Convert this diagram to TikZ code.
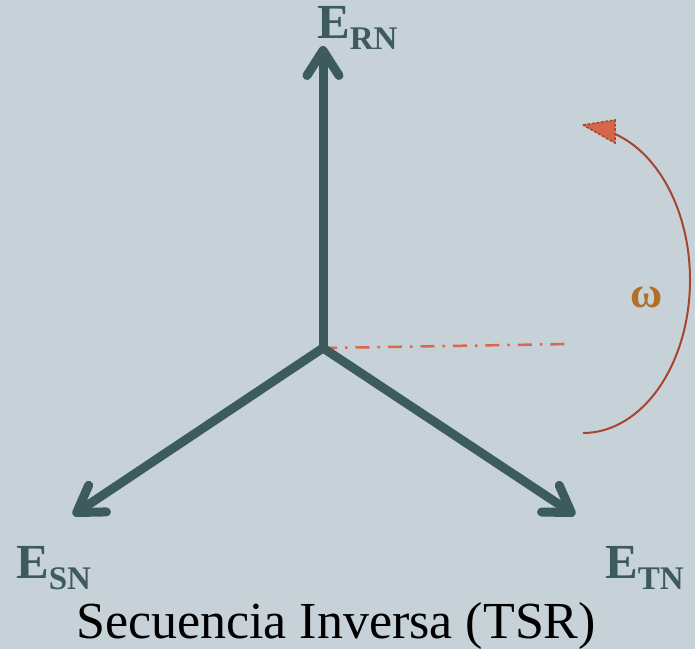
\documentclass[tikz,border=0pt]{standalone}
\usepackage{fontspec}
\setmainfont{Liberation Serif}
\usetikzlibrary{arrows.meta}
\definecolor{bgc}{HTML}{C6D2D8}
\definecolor{vec}{HTML}{3D5B5B}
\definecolor{omg}{HTML}{B0702A}
\definecolor{arcc}{HTML}{A8452E}
\definecolor{headc}{HTML}{D4664A}
\definecolor{refc}{HTML}{D9684C}
\tikzset{
  phasor/.style={draw=vec, line width=9pt, line cap=round,
    -{Straight Barb[length=25pt, width=32pt, round]}},
  lab/.style={anchor=base west, inner sep=0pt, text=vec, font=\bfseries},
}
\newcommand{\phlab}[1]{{\fontsize{49}{49}\selectfont E}{\fontsize{33}{33}\selectfont\raisebox{-11pt}{#1}}}
\begin{document}
\begin{tikzpicture}[x=1pt,y=1pt]
\fill[bgc] (0,0) rectangle (695,649);
\useasboundingbox (0,0) rectangle (695,649);
\coordinate (O) at (323,301);
\coordinate (R) at (323,603);
\coordinate (S) at (73,134);
\coordinate (T) at (575,134);
\coordinate (D) at (570,305);
\draw[refc, line width=2.5pt, dash pattern=on 14pt off 8pt on 2.5pt off 8pt] (O) -- (D);
\draw[phasor] (O) -- (R);
\draw[phasor] (O) -- (S);
\draw[phasor] (O) -- (T);
\node[lab] (lr) at (317,610) {\phlab{RN}};
\node[lab] (ls) at (16,71) {\phlab{SN}};
\node[lab] (lt) at (605,71) {\phlab{TN}};
\draw[arcc, line width=2pt] (583,216) arc[start angle=-90, end angle=73, x radius=107, y radius=153];
\filldraw[fill=headc, draw=arcc, line width=1.5pt, dash pattern=on 3pt off 1.5pt] (583,524) -- (615,529) -- (615,506) -- cycle;
\node[text=omg, font=\bfseries\fontsize{44}{44}\selectfont] (w) at (647,352) {ω};
\node[anchor=base, inner sep=0pt, font=\fontsize{52}{52}\selectfont] (cap) at (336,11) {Secuencia Inversa (TSR)};
\end{tikzpicture}
\end{document}
